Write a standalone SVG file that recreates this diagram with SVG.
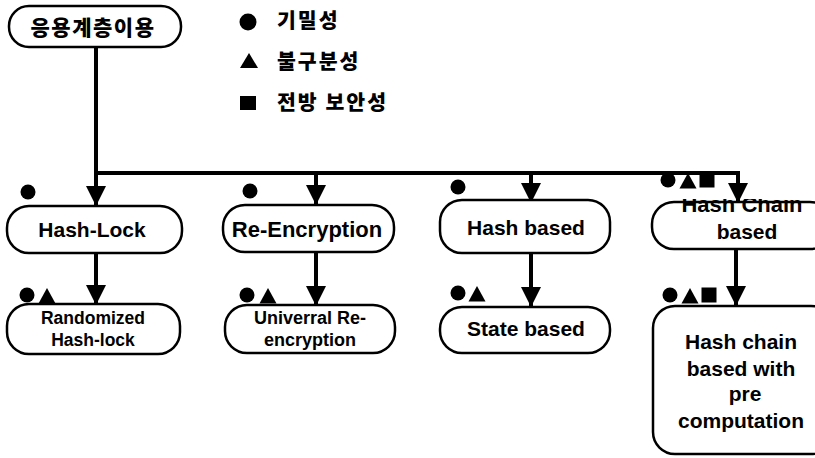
<svg xmlns="http://www.w3.org/2000/svg" width="815" height="458" viewBox="0 0 815 458">
<style>
.box{fill:#fff;stroke:#000;stroke-width:2.5}
.lbl{font-family:"Liberation Sans",Arial,sans-serif;font-weight:bold;fill:#000;text-anchor:middle}
.ko{font-family:"Noto Sans CJK KR","Noto Sans",sans-serif;font-weight:900;fill:#000}
.con{stroke:#000;stroke-width:4;fill:none}
.sym{fill:#000}
</style>
<defs>
<marker id="ah" markerUnits="userSpaceOnUse" markerWidth="22" markerHeight="22" refX="20" refY="10" orient="auto">
<path d="M0,0 L20,10 L0,20 z" fill="#000"/>
</marker>
<circle id="dot" r="7.5"/>
<path id="tri" d="M0,-8 L8.5,7.5 L-8.5,7.5 z"/>
<rect id="sq" x="-7.5" y="-7.5" width="15" height="15"/>
<circle id="ldot" r="8.5"/>
<path id="ltri" d="M0,-8 L9,7 L-9,7 z"/>
<rect id="lsq" x="-8" y="-7" width="16" height="14"/>
<clipPath id="hcClip"><rect x="640" y="199" width="180" height="55"/></clipPath>
</defs>

<g id="connectors">
<path class="con" d="M96,46 V173 H739"/>
<line class="con" x1="96" y1="173" x2="96" y2="206" marker-end="url(#ah)"/>
<line class="con" x1="316" y1="173" x2="316" y2="205" marker-end="url(#ah)"/>
<line class="con" x1="531" y1="173" x2="531" y2="203" marker-end="url(#ah)"/>
<line class="con" x1="738" y1="171" x2="738" y2="203" marker-end="url(#ah)"/>
<line class="con" x1="96" y1="253" x2="96" y2="305" marker-end="url(#ah)"/>
<line class="con" x1="316" y1="252" x2="316" y2="306" marker-end="url(#ah)"/>
<line class="con" x1="531" y1="253" x2="531" y2="307" marker-end="url(#ah)"/>
<line class="con" x1="736" y1="249" x2="736" y2="306" marker-end="url(#ah)"/>
</g>

<g id="legend">
<use href="#ldot" x="248" y="22" class="sym"/>
<text class="ko" x="277" y="28" font-size="20.5" letter-spacing="2">기밀성</text>
<use href="#ltri" x="249" y="61" class="sym"/>
<text class="ko" x="277" y="69" font-size="20.5" letter-spacing="2">불구분성</text>
<use href="#lsq" x="248" y="103" class="sym"/>
<text class="ko" x="277" y="110" font-size="20.5" letter-spacing="2">전방 보안성</text>
</g>

<g id="n-app">
<rect class="box" x="9" y="6" width="172" height="41" rx="20"/>
<text class="ko" x="93" y="35" font-size="21" letter-spacing="1.5" text-anchor="middle">응용계층이용</text>
</g>

<g id="n-hashlock">
<use href="#dot" x="28" y="192" class="sym"/>
<rect class="box" x="7" y="206" width="175" height="47" rx="22"/>
<text class="lbl" x="92" y="237" font-size="21">Hash-Lock</text>
</g>

<g id="n-reenc">
<use href="#dot" x="250" y="191" class="sym"/>
<rect class="box" x="223" y="205" width="171" height="47" rx="22"/>
<text class="lbl" x="307" y="237" font-size="22">Re-Encryption</text>
</g>

<g id="n-hashbased">
<use href="#dot" x="458" y="187" class="sym"/>
<rect class="box" x="440" y="200" width="170" height="53" rx="22"/>
<text class="lbl" x="526" y="235" font-size="21">Hash based</text>
</g>

<g id="n-hashchain">
<use href="#dot" x="668" y="180" class="sym"/>
<use href="#tri" x="688" y="181" class="sym"/>
<use href="#sq" x="707" y="180" class="sym"/>
<rect class="box" x="652" y="202" width="180" height="47" rx="22"/>
<text class="lbl" x="742" y="212" font-size="22" clip-path="url(#hcClip)">Hash Chain</text>
<text class="lbl" x="747" y="239" font-size="21">based</text>
</g>

<g id="n-randomized">
<use href="#dot" x="27" y="295" class="sym"/>
<use href="#tri" x="47" y="296" class="sym"/>
<rect class="box" x="7" y="304" width="173" height="50" rx="22"/>
<text class="lbl" x="93" y="324" font-size="17.5">Randomized</text>
<text class="lbl" x="93" y="346" font-size="17.5">Hash-lock</text>
</g>

<g id="n-universal">
<use href="#dot" x="247" y="295" class="sym"/>
<use href="#tri" x="268" y="296" class="sym"/>
<rect class="box" x="225" y="305" width="170" height="48" rx="22"/>
<text class="lbl" x="310" y="324" font-size="18">Univerral Re-</text>
<text class="lbl" x="310" y="346" font-size="18">encryption</text>
</g>

<g id="n-state">
<use href="#dot" x="458" y="293" class="sym"/>
<use href="#tri" x="477" y="294" class="sym"/>
<rect class="box" x="440" y="307" width="170" height="46" rx="22"/>
<text class="lbl" x="526" y="336" font-size="21">State based</text>
</g>

<g id="n-precomp">
<use href="#dot" x="670" y="295" class="sym"/>
<use href="#tri" x="690" y="296" class="sym"/>
<use href="#sq" x="709" y="295" class="sym"/>
<rect class="box" x="653" y="306" width="180" height="148" rx="22"/>
<text class="lbl" x="741" y="349" font-size="21">Hash chain</text>
<text class="lbl" x="741" y="376" font-size="21">based with</text>
<text class="lbl" x="745" y="401" font-size="21">pre</text>
<text class="lbl" x="741" y="428" font-size="21">computation</text>
</g>
</svg>
